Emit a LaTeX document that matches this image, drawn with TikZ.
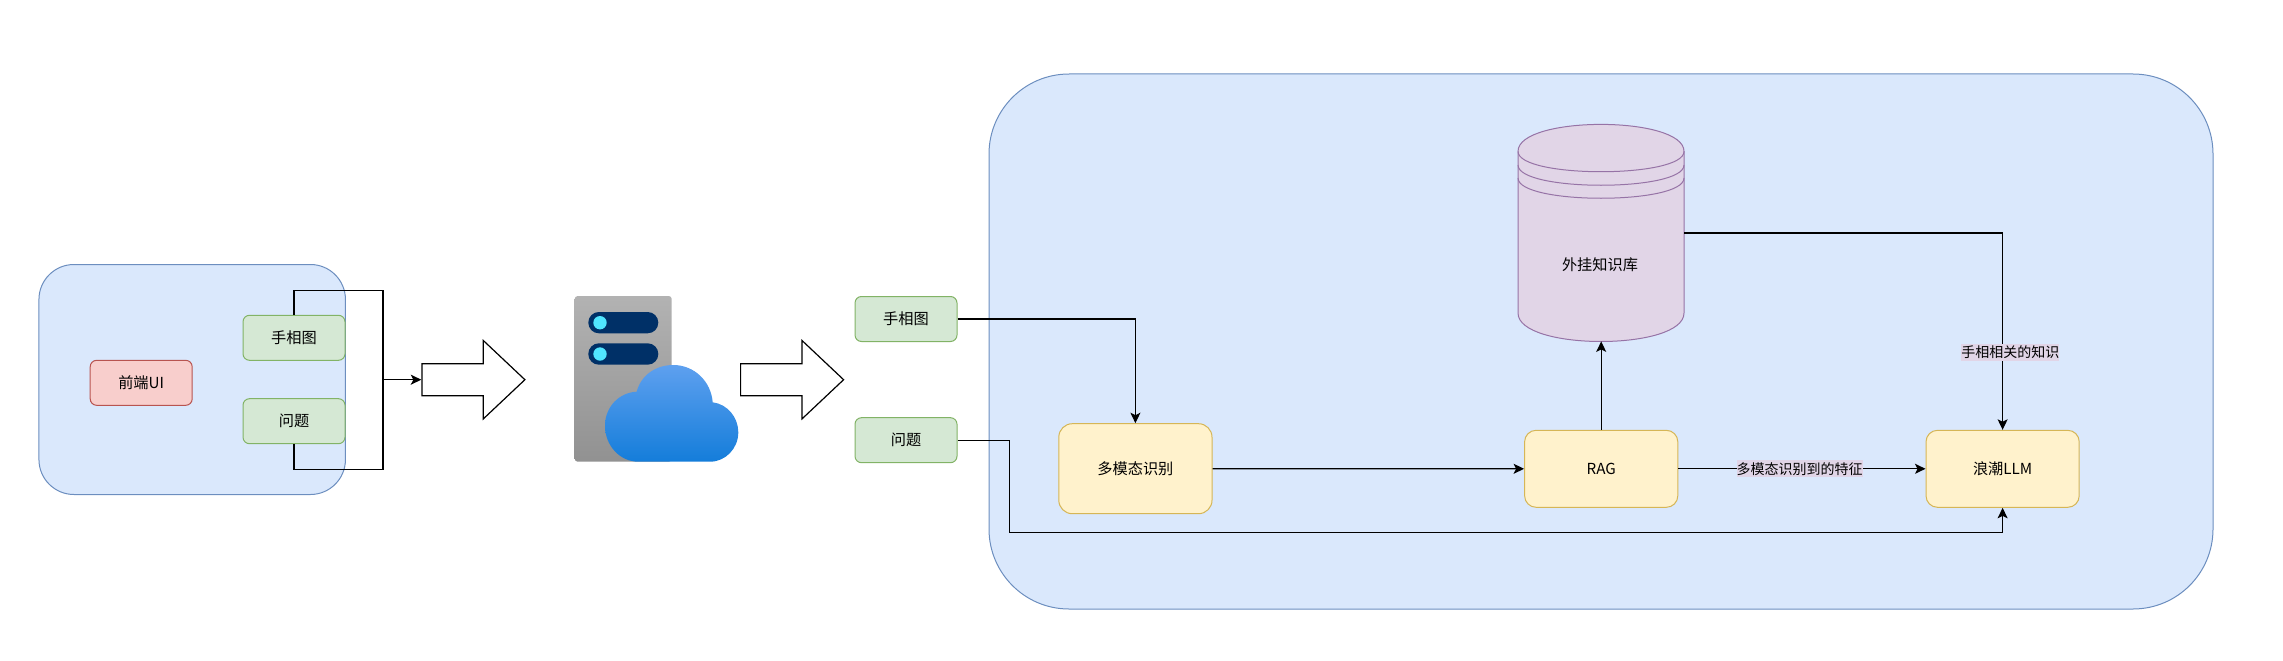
\documentclass[tikz,border=0pt]{standalone}
\usepackage{fontspec}
\setmainfont{Noto Sans CJK SC}
\usepackage{xcolor}
\usetikzlibrary{arrows.meta,positioning,shapes.arrows}
\definecolor{panelfill}{HTML}{DAE8FC}
\definecolor{paneldraw}{HTML}{6C8EBF}
\definecolor{greenfill}{HTML}{D5E8D4}
\definecolor{greendraw}{HTML}{82B366}
\definecolor{redfill}{HTML}{F8CECC}
\definecolor{reddraw}{HTML}{B85450}
\definecolor{yellowfill}{HTML}{FFF2CC}
\definecolor{yellowdraw}{HTML}{D6B656}
\definecolor{purplefill}{HTML}{E1D5E7}
\definecolor{purpledraw}{HTML}{9673A6}
\definecolor{pillblue}{HTML}{003067}
\definecolor{ledblue}{HTML}{50E6FF}
\definecolor{cloudtop}{HTML}{5EA0EF}
\definecolor{cloudlow}{HTML}{147DDA}

\begin{document}
\begin{tikzpicture}[
  x=1pt, y=-1pt,
  every node/.style={inner sep=0pt, font=\fontsize{15.2}{18}\selectfont},
  panel/.style={rectangle, draw=paneldraw, fill=panelfill, line width=1pt},
  tag/.style={rectangle, draw=greendraw, fill=greenfill, line width=1pt, rounded corners=6.5pt, minimum width=102pt, minimum height=45pt},
  uibox/.style={tag, draw=reddraw, fill=redfill},
  stepbox/.style={rectangle, draw=yellowdraw, fill=yellowfill, line width=1pt, align=center},
  blockarr/.style={shape=single arrow, anchor=tail, draw=black, fill=white, line width=1.2pt, inner ysep=15.35pt, single arrow tip angle=86.6, single arrow head extend=23.3pt, minimum width=77.3pt, minimum height=103pt},
  arr/.style={-{Stealth[length=10.5pt,width=10pt,inset=2.5pt]}, line width=1.2pt},
  line/.style={line width=1.2pt},
  edgetag/.style={fill=purplefill, font=\fontsize{14}{17}\selectfont, minimum height=17pt}
]
\useasboundingbox (0,0) rectangle (2283,661);

% Left: front end
\node[panel, rounded corners=35pt, minimum width=306.5pt, minimum height=230pt] (frontPanel) at (192.2,379.5) {};
\node[uibox] (frontUI) at (141.2,382.8) {前端UI};
\node[tag] (handA) at (294,337.8) {手相图};
\node[tag] (askA) at (294,421.2) {问题};

% Block arrows
\node[blockarr] (blockA) at (421.3,379.7) {};
\node[blockarr] (blockB) at (740,379.7) {};
\coordinate (merge) at (383,379.7);
\draw[line] (handA.north) -- ++(0,-24.7) -| (merge);
\draw[line] (askA.south) -- ++(0,25) -| (merge);
\draw[arr] (merge) -- (blockA.tail);

% Server icon
\shade[top color=black!30, bottom color=black!43, rounded corners=3pt] (574.7,296) rectangle (671.7,461.7);
\fill[pillblue, rounded corners=10.6pt] (588.3,312) rectangle (658.3,333.3);
\fill[pillblue, rounded corners=10.6pt] (588.3,343.3) rectangle (658.3,364.7);
\fill[ledblue] (600,322.7) circle (6.7);
\fill[ledblue] (600,354) circle (6.7);
\shade[top color=cloudtop, bottom color=cloudlow]
  (638.3,461.7) .. controls (620,461.7) and (605,445.7) .. (605,425.7)
  .. controls (605,407) and (619,392.5) .. (636.7,391.7)
  .. controls (641,375) and (656,365) .. (673.3,365)
  .. controls (694,365) and (711,381) .. (712.7,402.3)
  .. controls (727,404) and (738.3,417) .. (738.3,432.3)
  .. controls (738.3,448.5) and (725.5,461.7) .. (710,461.7) -- cycle;

% Right: back end
\node[panel, rounded corners=80pt, minimum width=1224pt, minimum height=535pt] (backPanel) at (1601,341.5) {};
\node[tag] (handB) at (906,319) {手相图};
\node[tag] (askB) at (906,440.2) {问题};
\node[stepbox, rounded corners=13.5pt, minimum width=153.2pt, minimum height=90pt] (vision) at (1135.4,468.7) {多模态识别};
\node[stepbox, rounded corners=11.5pt, minimum width=153.2pt, minimum height=77pt] (rag) at (1601.2,468.8) {RAG};
\node[stepbox, rounded corners=11.5pt, minimum width=153.2pt, minimum height=77pt] (llm) at (2002.6,468.8) {浪潮LLM};

% Knowledge base
\draw[draw=purpledraw, fill=purplefill, line width=1pt] (1518,151.4) .. controls (1518,115.4) and (1684,115.4) .. (1684,151.4)
  -- (1684,313) .. controls (1684,351) and (1518,351) .. (1518,313) -- cycle;
\draw[draw=purpledraw, line width=1pt] (1518,151.4) .. controls (1518,178.5) and (1684,178.5) .. (1684,151.4);
\draw[draw=purpledraw, line width=1pt] (1518,165) .. controls (1518,192) and (1684,192) .. (1684,165);
\draw[draw=purpledraw, line width=1pt] (1518,178) .. controls (1518,205) and (1684,205) .. (1684,178);
\node (kbase) at (1600,264.6) {外挂知识库};
\coordinate (kbaseTop) at (1601.2,341.4);
\coordinate (kbaseOut) at (1684,232.9);

% Connectors
\draw[arr] (handB.east) -| (vision.north);
\draw[arr] (askB.east) -- ++(51.9,0) |- (1500,532.5) -| (llm.south);
\draw[arr] (vision.east) -- (rag.west);
\draw[arr] (rag.north) -- (kbaseTop);
\draw[arr] (rag.east) -- (llm.west);
\draw[arr] (kbaseOut) -| (llm.north);

% Edge labels
\node[edgetag] (featTag) at (1799.7,468.8) {多模态识别到的特征};
\node[edgetag] (kbTag) at (2010.3,352.6) {手相相关的知识};

\end{tikzpicture}
\end{document}
